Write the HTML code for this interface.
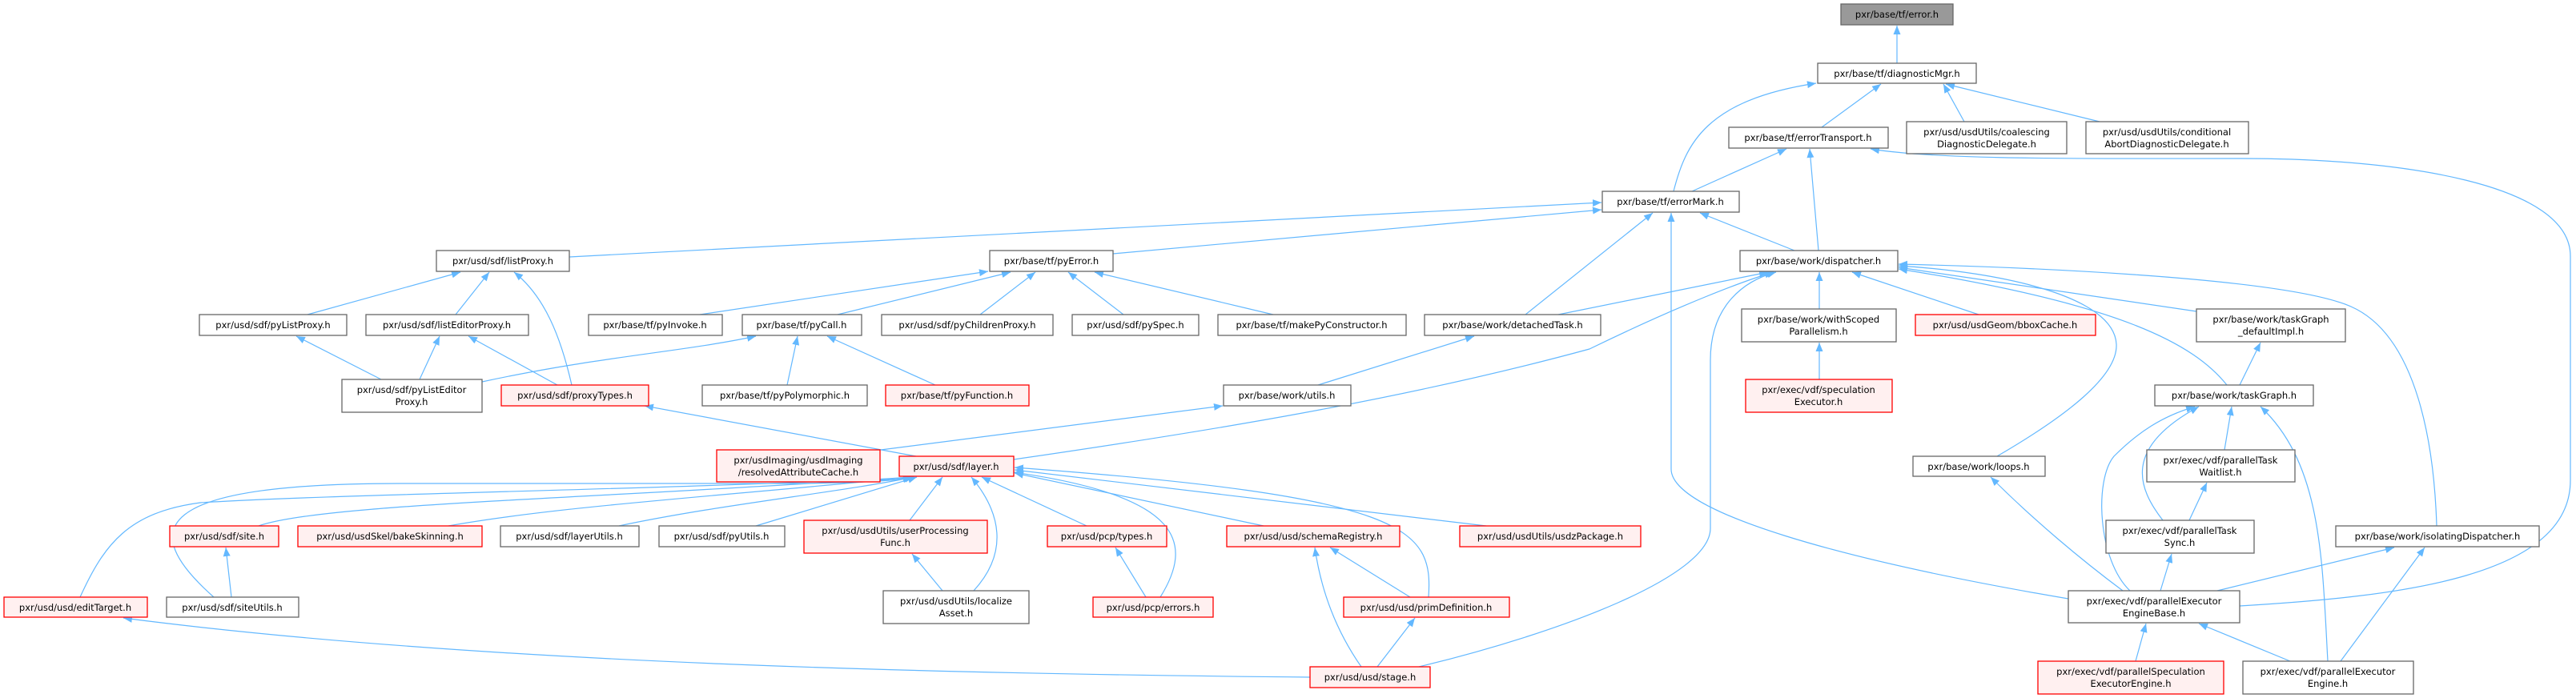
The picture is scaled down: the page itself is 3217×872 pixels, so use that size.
<!DOCTYPE html>
<html><head><meta charset="utf-8"><style>
html,body{margin:0;padding:0;background:#fff;}
svg{display:block;}
text{font-family:"DejaVu Sans","Liberation Sans",sans-serif;font-size:11.5px;fill:#000;text-anchor:middle;}
.n{fill:#fff;stroke:#666;stroke-width:1.3;}
.r{fill:#fff0f0;stroke:#f00;stroke-width:1.3;}
.g{fill:#999;stroke:#666;stroke-width:1.3;}
.e{fill:none;stroke:#63b8ff;stroke-width:1.2;marker-end:url(#a);}
</style></head><body>
<svg width="3217" height="872" viewBox="0 0 3217 872" xmlns="http://www.w3.org/2000/svg">
<defs><marker id="a" markerUnits="userSpaceOnUse" markerWidth="12" markerHeight="10" refX="11" refY="4.5" orient="auto"><path d="M0,0 L11,4.5 L0,9 z" fill="#63b8ff"/></marker></defs>
<path class="e" d="M2369,79 L2369,32"/>
<path class="e" d="M2275,159 L2349,105"/>
<path class="e" d="M2453,152 L2427,105"/>
<path class="e" d="M2622,152 L2430,105"/>
<path class="e" d="M2090,239 C2105,180 2130,125 2268,104"/>
<path class="e" d="M2113,239 L2231,186"/>
<path class="e" d="M2271,313 L2260,186"/>
<path class="e" d="M2241,313 L2123,266"/>
<path class="e" d="M2797,757 C3000,745 3210,720 3210,600 L3210,320 C3210,230 3000,198 2800,198 C2600,198 2420,200 2336,186"/>
<path class="e" d="M711,321 L2000,253"/>
<path class="e" d="M1390,317 L2000,262"/>
<path class="e" d="M1905,393 L2064,266"/>
<path class="e" d="M2583,748 C2300,700 2087,640 2087,586 L2087,266"/>
<path class="e" d="M384,393 L575,340"/>
<path class="e" d="M569,393 L611,340"/>
<path class="e" d="M714,481 C700,420 680,370 642,340"/>
<path class="e" d="M874,393 L1234,339"/>
<path class="e" d="M1046,393 L1262,340"/>
<path class="e" d="M1224,393 L1293,340"/>
<path class="e" d="M1403,393 L1334,340"/>
<path class="e" d="M1590,393 L1367,340"/>
<path class="e" d="M476,474 L370,420"/>
<path class="e" d="M524,474 L549,420"/>
<path class="e" d="M696,481 L585,420"/>
<path class="e" d="M602,477 C750,445 850,440 944,420"/>
<path class="e" d="M983,481 L996,420"/>
<path class="e" d="M1168,481 L1033,420"/>
<path class="e" d="M1144,570 L805,507"/>
<path class="e" d="M1646,481 L1841,420"/>
<path class="e" d="M1100,562 L1527,507"/>
<path class="e" d="M1946,393 L2208,340"/>
<path class="e" d="M1266,574 C1500,540 1750,500 1985,436 C2100,380 2180,350 2215,340"/>
<path class="e" d="M1772,833 C1950,790 2136,720 2136,660 L2136,450 C2136,380 2180,350 2218,340"/>
<path class="e" d="M2272,386 L2272,340"/>
<path class="e" d="M2471,393 L2313,340"/>
<path class="e" d="M2743,389 L2371,334"/>
<path class="e" d="M2781,481 C2740,430 2650,380 2371,336"/>
<path class="e" d="M2494,570 C2580,520 2645,470 2643,430 C2640,370 2500,340 2371,332"/>
<path class="e" d="M3043,657 C3040,560 3020,420 2936,383 C2850,345 2500,333 2371,330"/>
<path class="e" d="M2272,474 L2272,428"/>
<path class="e" d="M2797,481 L2823,428"/>
<path class="e" d="M2778,562 L2787,508"/>
<path class="e" d="M2701,650 C2670,610 2650,560 2746,508"/>
<path class="e" d="M2734,650 L2756,603"/>
<path class="e" d="M2660,738 C2620,700 2615,600 2640,570 C2670,540 2700,520 2741,508"/>
<path class="e" d="M2907,826 C2900,700 2900,580 2823,508"/>
<path class="e" d="M2651,738 C2600,700 2540,650 2486,596"/>
<path class="e" d="M2698,738 L2712,692"/>
<path class="e" d="M2769,738 L2990,684"/>
<path class="e" d="M2923,826 L3028,684"/>
<path class="e" d="M2667,826 L2680,779"/>
<path class="e" d="M2860,826 L2746,779"/>
<path class="e" d="M323,657 C400,630 700,625 1139,596"/>
<path class="e" d="M560,657 C700,632 900,620 1139,596"/>
<path class="e" d="M773,657 C900,630 1050,615 1141,596"/>
<path class="e" d="M944,657 L1145,596"/>
<path class="e" d="M1136,650 L1177,596"/>
<path class="e" d="M1216,738 C1260,690 1250,640 1213,596"/>
<path class="e" d="M1357,657 L1226,596"/>
<path class="e" d="M1449,746 C1490,680 1480,620 1266,590"/>
<path class="e" d="M1578,657 L1267,591"/>
<path class="e" d="M1856,657 L1267,587"/>
<path class="e" d="M1784,746 C1790,660 1760,620 1267,584"/>
<path class="e" d="M267,746 C170,660 190,604 500,604 L1000,604 C1080,603 1120,600 1139,597"/>
<path class="e" d="M100,746 C130,680 160,640 250,628 C400,618 800,612 1139,597"/>
<path class="e" d="M289,746 L282,684"/>
<path class="e" d="M1177,738 L1139,692"/>
<path class="e" d="M1431,746 L1393,684"/>
<path class="e" d="M1761,746 L1661,684"/>
<path class="e" d="M1700,833 C1670,790 1650,740 1642,684"/>
<path class="e" d="M1720,833 L1767,772"/>
<path class="e" d="M1636,846 C1200,842 600,830 154,772"/>
<rect class="g" x="2299" y="5" width="140" height="26"/><text x="2369" y="22">pxr/base/tf/error.h</text>
<rect class="n" x="2270" y="79" width="198" height="25"/><text x="2369" y="96">pxr/base/tf/diagnosticMgr.h</text>
<rect class="n" x="2159" y="159" width="199" height="26"/><text x="2258" y="176">pxr/base/tf/errorTransport.h</text>
<rect class="n" x="2381" y="152" width="200" height="40"/><text x="2481" y="169">pxr/usd/usdUtils/coalescing</text><text x="2481" y="184">DiagnosticDelegate.h</text>
<rect class="n" x="2605" y="152" width="203" height="40"/><text x="2706" y="169">pxr/usd/usdUtils/conditional</text><text x="2706" y="184">AbortDiagnosticDelegate.h</text>
<rect class="n" x="2001" y="239" width="171" height="26"/><text x="2086" y="256">pxr/base/tf/errorMark.h</text>
<rect class="n" x="545" y="313" width="166" height="26"/><text x="628" y="330">pxr/usd/sdf/listProxy.h</text>
<rect class="n" x="1236" y="313" width="154" height="26"/><text x="1313" y="330">pxr/base/tf/pyError.h</text>
<rect class="n" x="2173" y="313" width="197" height="26"/><text x="2271" y="330">pxr/base/work/dispatcher.h</text>
<rect class="n" x="249" y="393" width="184" height="26"/><text x="341" y="410">pxr/usd/sdf/pyListProxy.h</text>
<rect class="n" x="457" y="393" width="203" height="26"/><text x="558" y="410">pxr/usd/sdf/listEditorProxy.h</text>
<rect class="n" x="735" y="393" width="167" height="26"/><text x="818" y="410">pxr/base/tf/pyInvoke.h</text>
<rect class="n" x="927" y="393" width="149" height="26"/><text x="1001" y="410">pxr/base/tf/pyCall.h</text>
<rect class="n" x="1101" y="393" width="214" height="26"/><text x="1208" y="410">pxr/usd/sdf/pyChildrenProxy.h</text>
<rect class="n" x="1339" y="393" width="158" height="26"/><text x="1418" y="410">pxr/usd/sdf/pySpec.h</text>
<rect class="n" x="1521" y="393" width="235" height="26"/><text x="1638" y="410">pxr/base/tf/makePyConstructor.h</text>
<rect class="n" x="1779" y="393" width="220" height="26"/><text x="1889" y="410">pxr/base/work/detachedTask.h</text>
<rect class="n" x="2175" y="386" width="193" height="41"/><text x="2271" y="403">pxr/base/work/withScoped</text><text x="2271" y="418">Parallelism.h</text>
<rect class="r" x="2392" y="393" width="225" height="26"/><text x="2504" y="410">pxr/usd/usdGeom/bboxCache.h</text>
<rect class="n" x="2743" y="386" width="186" height="41"/><text x="2836" y="403">pxr/base/work/taskGraph</text><text x="2836" y="418">_defaultImpl.h</text>
<rect class="n" x="427" y="474" width="175" height="41"/><text x="514" y="491">pxr/usd/sdf/pyListEditor</text><text x="514" y="506">Proxy.h</text>
<rect class="r" x="626" y="481" width="184" height="26"/><text x="718" y="498">pxr/usd/sdf/proxyTypes.h</text>
<rect class="n" x="877" y="481" width="206" height="26"/><text x="980" y="498">pxr/base/tf/pyPolymorphic.h</text>
<rect class="r" x="1106" y="481" width="179" height="26"/><text x="1195" y="498">pxr/base/tf/pyFunction.h</text>
<rect class="n" x="1528" y="481" width="159" height="26"/><text x="1607" y="498">pxr/base/work/utils.h</text>
<rect class="r" x="2180" y="474" width="183" height="41"/><text x="2271" y="491">pxr/exec/vdf/speculation</text><text x="2271" y="506">Executor.h</text>
<rect class="n" x="2691" y="481" width="198" height="26"/><text x="2790" y="498">pxr/base/work/taskGraph.h</text>
<rect class="r" x="895" y="562" width="204" height="40"/><text x="997" y="579">pxr/usdImaging/usdImaging</text><text x="997" y="594">/resolvedAttributeCache.h</text>
<rect class="r" x="1123" y="570" width="143" height="25"/><text x="1194" y="587">pxr/usd/sdf/layer.h</text>
<rect class="n" x="2389" y="570" width="165" height="25"/><text x="2471" y="587">pxr/base/work/loops.h</text>
<rect class="n" x="2681" y="562" width="185" height="40"/><text x="2773" y="579">pxr/exec/vdf/parallelTask</text><text x="2773" y="594">Waitlist.h</text>
<rect class="r" x="212" y="657" width="136" height="26"/><text x="280" y="674">pxr/usd/sdf/site.h</text>
<rect class="r" x="372" y="657" width="230" height="26"/><text x="487" y="674">pxr/usd/usdSkel/bakeSkinning.h</text>
<rect class="n" x="625" y="657" width="173" height="26"/><text x="711" y="674">pxr/usd/sdf/layerUtils.h</text>
<rect class="n" x="823" y="657" width="157" height="26"/><text x="901" y="674">pxr/usd/sdf/pyUtils.h</text>
<rect class="r" x="1004" y="650" width="229" height="41"/><text x="1118" y="667">pxr/usd/usdUtils/userProcessing</text><text x="1118" y="682">Func.h</text>
<rect class="r" x="1308" y="657" width="149" height="26"/><text x="1382" y="674">pxr/usd/pcp/types.h</text>
<rect class="r" x="1532" y="657" width="216" height="26"/><text x="1640" y="674">pxr/usd/usd/schemaRegistry.h</text>
<rect class="r" x="1823" y="657" width="226" height="26"/><text x="1936" y="674">pxr/usd/usdUtils/usdzPackage.h</text>
<rect class="n" x="2630" y="650" width="185" height="41"/><text x="2722" y="667">pxr/exec/vdf/parallelTask</text><text x="2722" y="682">Sync.h</text>
<rect class="n" x="2917" y="657" width="254" height="26"/><text x="3044" y="674">pxr/base/work/isolatingDispatcher.h</text>
<rect class="r" x="5" y="746" width="179" height="25"/><text x="94" y="763">pxr/usd/usd/editTarget.h</text>
<rect class="n" x="208" y="746" width="165" height="25"/><text x="290" y="763">pxr/usd/sdf/siteUtils.h</text>
<rect class="n" x="1103" y="738" width="182" height="41"/><text x="1194" y="755">pxr/usd/usdUtils/localize</text><text x="1194" y="770">Asset.h</text>
<rect class="r" x="1365" y="746" width="150" height="25"/><text x="1440" y="763">pxr/usd/pcp/errors.h</text>
<rect class="r" x="1678" y="746" width="207" height="25"/><text x="1781" y="763">pxr/usd/usd/primDefinition.h</text>
<rect class="n" x="2583" y="738" width="214" height="40"/><text x="2690" y="755">pxr/exec/vdf/parallelExecutor</text><text x="2690" y="770">EngineBase.h</text>
<rect class="r" x="1636" y="833" width="150" height="26"/><text x="1711" y="850">pxr/usd/usd/stage.h</text>
<rect class="r" x="2545" y="826" width="232" height="41"/><text x="2661" y="843">pxr/exec/vdf/parallelSpeculation</text><text x="2661" y="858">ExecutorEngine.h</text>
<rect class="n" x="2801" y="826" width="213" height="41"/><text x="2907" y="843">pxr/exec/vdf/parallelExecutor</text><text x="2907" y="858">Engine.h</text>
</svg>
</body></html>
